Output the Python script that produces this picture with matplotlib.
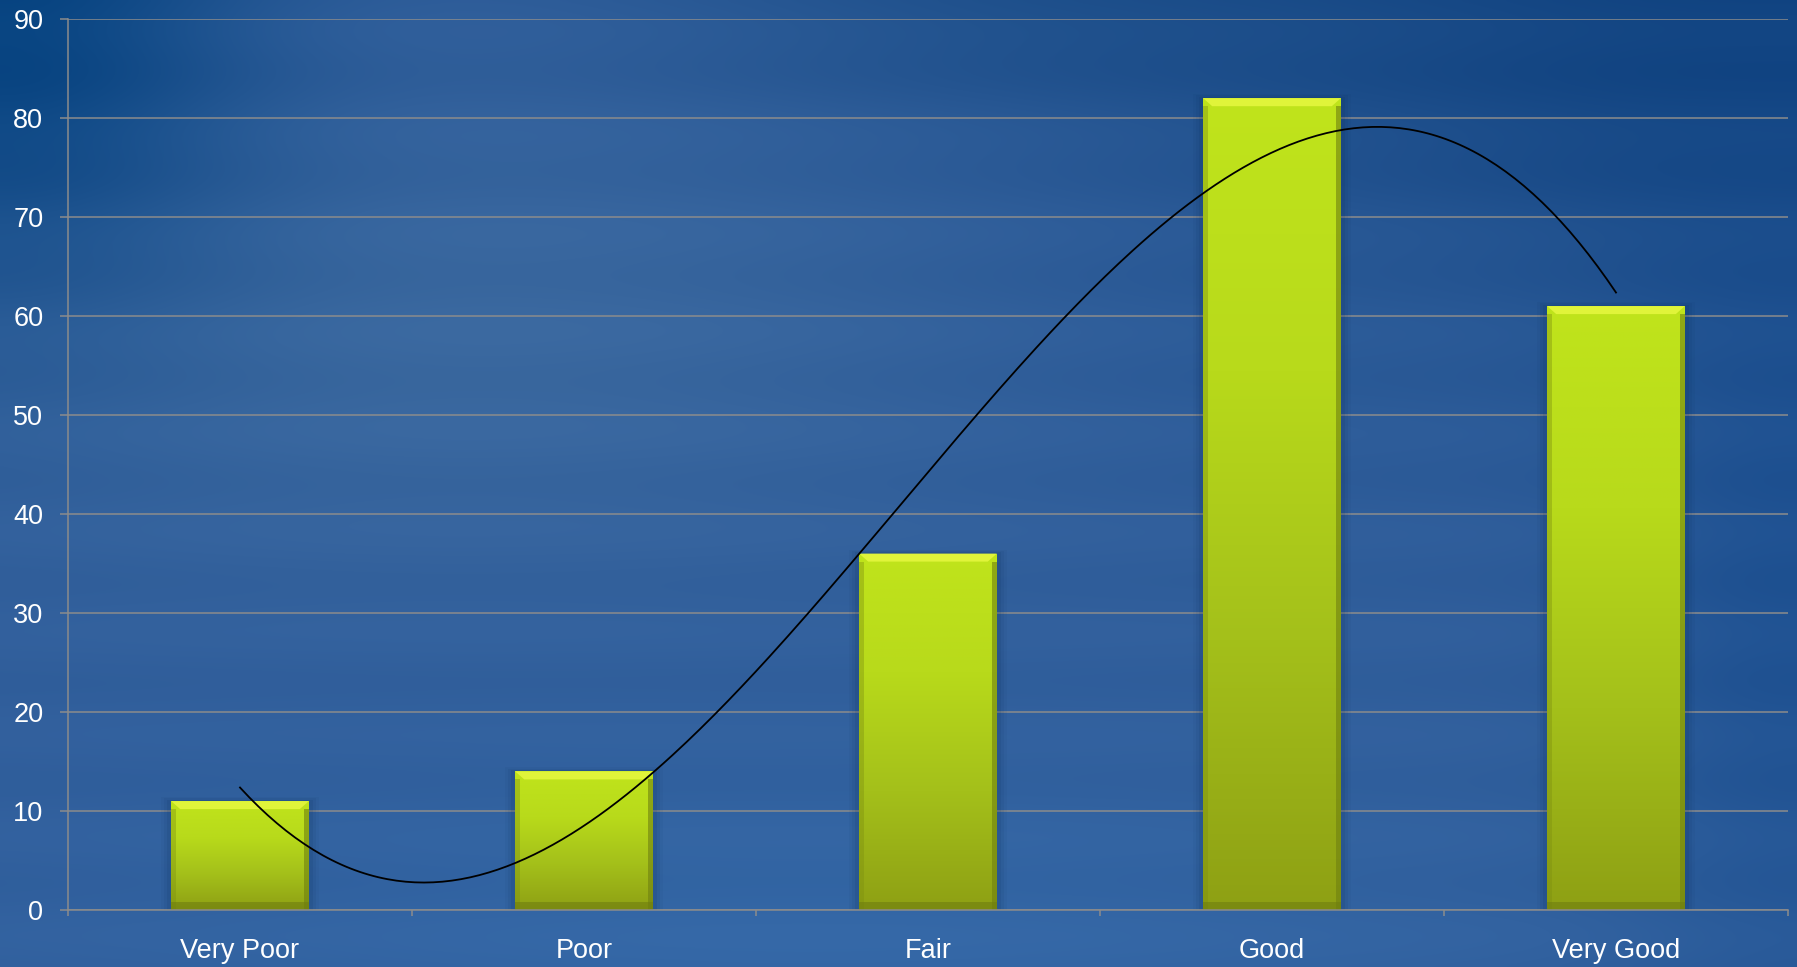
#!/usr/bin/env python3

import numpy as np
import matplotlib
matplotlib.use('Agg')
import matplotlib.pyplot as plt
from matplotlib.patches import Polygon, Rectangle
from matplotlib.colors import LinearSegmentedColormap

categories = ['Very Poor', 'Poor', 'Fair', 'Good', 'Very Good']
ratings = [11, 14, 36, 82, 61]
y_ticks = [0, 10, 20, 30, 40, 50, 60, 70, 80, 90]

plt.rcParams['font.family'] = ['Liberation Sans', 'DejaVu Sans']

W, H, DPI = 1797, 967, 100
fig = plt.figure(figsize=(W / DPI, H / DPI), dpi=DPI)

# blue backdrop: soft blobs of light and dark over a mid blue
bg_ax = fig.add_axes([0, 0, 1, 1], zorder=-10)
bg_ax.set_axis_off()
yy, xx = np.mgrid[0:1:300j, 0:1:560j]
base = np.array([0.19, 0.37, 0.61])
img = np.ones(yy.shape + (3,)) * base


def blob(cx, cy, sx, sy, color, strength):
    global img
    w = np.exp(-(((xx - cx) / sx) ** 2 + ((yy - cy) / sy) ** 2)) * strength
    img = img * (1 - w[..., None]) + np.array(color) * w[..., None]


blob(0.25, 0.35, 0.30, 0.25, [0.24, 0.42, 0.63], 0.8)
blob(0.0, 0.0, 0.14, 0.30, [0.02, 0.26, 0.50], 0.95)
blob(0.6, 0.0, 0.25, 0.12, [0.10, 0.30, 0.53], 0.6)
blob(1.0, 0.0, 0.35, 0.35, [0.05, 0.25, 0.49], 0.9)
blob(1.0, 0.6, 0.10, 0.50, [0.08, 0.29, 0.55], 0.6)
blob(0.45, 1.0, 0.40, 0.20, [0.21, 0.42, 0.67], 0.7)
blob(0.75, 0.35, 0.15, 0.15, [0.17, 0.36, 0.60], 0.4)
# faint horizontal streaks
rows = np.sin(np.linspace(0, 60, yy.shape[0]))[:, None] * 0.006
img = np.clip(img + rows[..., None], 0, 1)
bg_ax.imshow(img, aspect='auto', extent=[0, 1, 1, 0], interpolation='bicubic')
bg_ax.set_xlim(0, 1)
bg_ax.set_ylim(1, 0)

ax = fig.add_axes([68 / W, 1 - 910 / H, (1788 - 68) / W, (910 - 19) / H])
ax.patch.set_alpha(0)

x = np.arange(1, len(categories) + 1)
bars = ax.bar(x, ratings, width=0.4, color='#b4d61a', edgecolor='none', zorder=3)

grad_cmap = LinearSegmentedColormap.from_list(
    'bar', ['#8ea014', '#a4c01a', '#b8da1b', '#c0e41b'])
grad = np.linspace(0, 1, 256)[:, None]
px_per_unit = (910 - 19) / 90.0
px_per_cat = (1788 - 68) / 5.0
for b in bars:
    x0, w, h = b.get_x(), b.get_width(), b.get_height()
    # soft shadow around each bar
    for k, a in [(10, 0.05), (7, 0.07), (4, 0.10)]:
        dx = k / px_per_cat
        dy = k / px_per_unit
        ax.add_patch(Rectangle((x0 - dx, 0), w + 2 * dx, h + dy * 0.4,
                               facecolor='#0b2b55', alpha=a, edgecolor='none', zorder=2))
    im = ax.imshow(grad, cmap=grad_cmap, aspect='auto', origin='lower',
                   extent=[x0, x0 + w, 0, h], zorder=3.1)
    im.set_clip_path(b)
    # top bevel
    bev = 8 / px_per_unit
    inset = 9 / px_per_cat
    ax.add_patch(Polygon([[x0, h], [x0 + w, h], [x0 + w - inset, h - bev],
                          [x0 + inset, h - bev]], closed=True,
                         facecolor='#e0f43a', edgecolor='none', zorder=3.3))
    # darker rim at the sides and bottom
    side = 5 / px_per_cat
    ax.add_patch(Rectangle((x0, 0), side, h - bev, facecolor='#7d8f10',
                           alpha=0.4, edgecolor='none', zorder=3.2))
    ax.add_patch(Rectangle((x0 + w - side, 0), side, h - bev, facecolor='#6f8010',
                           alpha=0.6, edgecolor='none', zorder=3.2))
    ax.add_patch(Rectangle((x0, 0), w, 8 / px_per_unit, facecolor='#6f7d10',
                           alpha=0.6, edgecolor='none', zorder=3.2))

# third-order polynomial trend line
coef = np.polyfit(x, ratings, 3)
xs = np.linspace(1, 5, 300)
ax.plot(xs, np.polyval(coef, xs), color='black', lw=1.3, zorder=4)

ax.set_xlim(0.5, len(categories) + 0.5)
ax.set_ylim(0, 90)
ax.set_yticks(y_ticks)
ax.yaxis.grid(True, color='#8c8c8c', lw=1.1, zorder=1)
ax.set_axisbelow(True)

ax.set_xticks(x)
ax.set_xticklabels(categories)
ax.set_xticks(np.arange(0.5, len(categories) + 1, 1), minor=True)
ax.tick_params(axis='x', which='major', length=0, pad=20, labelsize=19.5, labelcolor='white')
ax.tick_params(axis='x', which='minor', length=4.5, width=1.1, color='#8c8c8c', direction='out')
ax.tick_params(axis='y', length=5.8, width=1.1, color='#8c8c8c', pad=12,
               labelsize=19.5, labelcolor='white')

for s in ['top', 'right']:
    ax.spines[s].set_visible(False)
for s in ['left', 'bottom']:
    ax.spines[s].set_color('#8c8c8c')
    ax.spines[s].set_linewidth(1.1)
    ax.spines[s].set_zorder(5)

fig.savefig('out.png', dpi=DPI)
print("saved out.png")
